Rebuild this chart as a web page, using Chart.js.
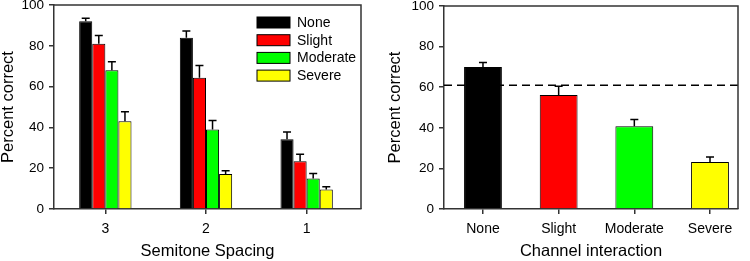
<!DOCTYPE html>
<html>
<head>
  <meta charset="UTF-8">
  <title>Percent correct</title>
  <script src="https://cdn.jsdelivr.net/npm/chart.js"></script>
  <style>
    body { margin: 0; background: #fff; }
    .wrap { display: flex; width: 750px; height: 261px; }
    canvas { display: block; }
  </style>
</head>
<body>
  <div class="wrap">
    <canvas id="spacing" width="375" height="261"></canvas>
    <canvas id="interaction" width="375" height="261"></canvas>
  </div>

  <script>
// values
const spacingLabels = ['3', '2', '1'];
const severityNames = ['None', 'Slight', 'Moderate', 'Severe'];
const severityColors = ['#000000', '#ff0000', '#00ff00', '#ffff00'];

const noneMeans = [92, 84, 34.2];
const noneErr = [1.5, 3.2, 3.5];
const slightMeans = [81, 64.3, 23.4];
const slightErr = [4, 6, 3.4];
const moderateMeans = [68, 39, 15];
const moderateErr = [4.2, 4.4, 2.4];
const severeMeans = [43, 17.2, 9.6];
const severeErr = [4.7, 1.5, 1.3];

const overallMeans = [70, 56.1, 40.8, 23.1];
const overallErr = [2.2, 4.4, 3.3, 2.5];
const chanceLevel = 61;

const yTicks = [0, 20, 40, 60, 80, 100];

Chart.defaults.font.family = '"Liberation Sans", Arial, sans-serif';
Chart.defaults.color = '#000';

// upper error bars on every bar
const errorBars = {
  id: 'errorBars',
  afterDatasetsDraw(chart) {
    const ctx = chart.ctx;
    const y = chart.scales.y;
    ctx.save();
    ctx.strokeStyle = '#000';
    ctx.lineWidth = 1.5;
    chart.data.datasets.forEach((ds, i) => {
      if (!ds.errors) return;
      chart.getDatasetMeta(i).data.forEach((bar, j) => {
        const top = y.getPixelForValue(ds.data[j] + ds.errors[j]);
        ctx.beginPath();
        ctx.moveTo(bar.x, bar.y);
        ctx.lineTo(bar.x, top);
        ctx.moveTo(bar.x - 4, top);
        ctx.lineTo(bar.x + 4, top);
        ctx.stroke();
      });
    });
    ctx.restore();
  }
};

// top and right sides of the box
const frame = {
  id: 'frame',
  afterDraw(chart) {
    const a = chart.chartArea;
    const ctx = chart.ctx;
    ctx.save();
    ctx.strokeStyle = '#333';
    ctx.lineWidth = 1.5;
    ctx.beginPath();
    ctx.moveTo(a.left, a.top);
    ctx.lineTo(a.right, a.top);
    ctx.lineTo(a.right, a.bottom);
    ctx.stroke();
    ctx.restore();
  }
};

// legend inside the plot, top right
const boxLegend = {
  id: 'boxLegend',
  afterDraw(chart) {
    const a = chart.chartArea;
    const ctx = chart.ctx;
    ctx.save();
    ctx.font = '14px "Liberation Sans", Arial, sans-serif';
    ctx.textBaseline = 'middle';
    chart.data.datasets.forEach((ds, i) => {
      const bx = a.right - 104;
      const by = a.top + 12 + i * 17.7;
      ctx.fillStyle = ds.backgroundColor;
      ctx.fillRect(bx, by, 33, 11);
      ctx.strokeStyle = '#000';
      ctx.lineWidth = 1;
      ctx.strokeRect(bx, by, 33, 11);
      ctx.fillStyle = '#000';
      ctx.fillText(ds.label, bx + 40, by + 6);
    });
    ctx.restore();
  }
};

// dashed reference line
const chanceLine = {
  id: 'chanceLine',
  afterDatasetsDraw(chart) {
    const a = chart.chartArea;
    const py = chart.scales.y.getPixelForValue(chanceLevel);
    const ctx = chart.ctx;
    ctx.save();
    ctx.strokeStyle = '#000';
    ctx.lineWidth = 1.5;
    ctx.setLineDash([8, 5]);
    ctx.beginPath();
    ctx.moveTo(a.left, py);
    ctx.lineTo(a.right, py);
    ctx.stroke();
    ctx.restore();
  }
};

function yAxis(width) {
  return {
    min: 0, max: 100,
    afterBuildTicks: s => { s.ticks = yTicks.map(v => ({ value: v })); },
    afterFit: s => { s.width = width; s.paddingTop = 0; s.paddingBottom = 0; },
    grid: { drawOnChartArea: false, tickLength: 5, color: '#333', lineWidth: 1.5 },
    border: { color: '#333', width: 1.5 },
    ticks: { font: { size: 13.5 }, padding: 5, color: '#000' },
    title: { display: true, text: 'Percent correct', font: { size: 16.5, lineHeight: 1 }, padding: 0, color: '#000' }
  };
}

// category axis with uneven margins at both ends, as in the figure
function xAxis(titleText, leadGap, tailGap) {
  return {
    offset: true,
    afterFit: s => {
      s.height = 52; s.paddingLeft = 0; s.paddingRight = 0;
      s._startValue = s.min - leadGap;
      s._valueRange = s.max - s.min + leadGap + tailGap;
    },
    grid: { offset: false, drawOnChartArea: false, tickLength: 5, color: '#333', lineWidth: 1.5 },
    border: { color: '#333', width: 1.5 },
    ticks: { font: { size: 14 }, padding: 7, color: '#000', maxRotation: 0 },
    title: { display: true, text: titleText, font: { size: 16.5, lineHeight: 1 }, padding: { bottom: 1 }, color: '#000' }
  };
}

const spacingSets = [noneMeans, slightMeans, moderateMeans, severeMeans];
const spacingErrs = [noneErr, slightErr, moderateErr, severeErr];

new Chart(document.getElementById('spacing'), {
  type: 'bar',
  data: {
    labels: spacingLabels,
    datasets: severityNames.map((name, i) => ({
      label: name,
      data: spacingSets[i],
      errors: spacingErrs[i],
      backgroundColor: severityColors[i],
      borderColor: '#000',
      borderWidth: 1,
      categoryPercentage: 0.52,
      barPercentage: 1
    }))
  },
  options: {
    responsive: false,
    animation: false,
    layout: { padding: { top: 5, right: 14, left: 0, bottom: 0 } },
    plugins: { legend: { display: false }, tooltip: { enabled: false } },
    scales: { x: xAxis('Semitone Spacing', 0.51, 0.54), y: yAxis(54) }
  },
  plugins: [errorBars, frame, boxLegend]
});

new Chart(document.getElementById('interaction'), {
  type: 'bar',
  data: {
    labels: severityNames,
    datasets: [{
      label: 'Channel interaction',
      data: overallMeans,
      errors: overallErr,
      backgroundColor: severityColors,
      borderColor: '#000',
      borderWidth: 1,
      categoryPercentage: 0.5,
      barPercentage: 1
    }]
  },
  options: {
    responsive: false,
    animation: false,
    layout: { padding: { top: 6, right: 12, left: 12, bottom: 0 } },
    plugins: { legend: { display: false }, tooltip: { enabled: false } },
    scales: { x: xAxis('Channel interaction', 0.515, 0.37), y: yAxis(57) }
  },
  plugins: [chanceLine, errorBars, frame]
});
  </script>
</body>
</html>
